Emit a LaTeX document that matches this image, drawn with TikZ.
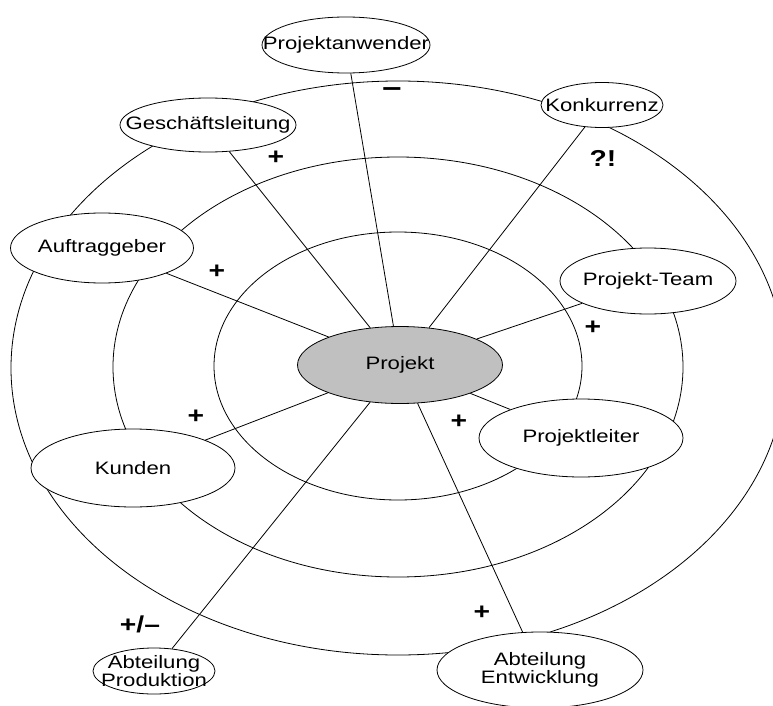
\documentclass[tikz,border=0pt]{standalone}
\usepackage{fontspec}
\setmainfont{Liberation Sans}[FakeStretch=1.23]
\usepackage{tikz}
\usetikzlibrary{shapes.geometric}
\definecolor{kerngrau}{RGB}{192,192,192}

\begin{document}
\begin{tikzpicture}[x=1pt,y=-1pt,line width=0.8pt,
                    font=\fontsize{18}{18}\selectfont]
  \tikzstyle{umfeld}=[ellipse,draw,fill=white,inner sep=0pt]
  \tikzstyle{wert}=[font=\fontsize{23}{24}\selectfont\bfseries,inner sep=0pt]

  \useasboundingbox (0,0) rectangle (773,706);

  % Ringe
  \draw (398,366) ellipse [x radius=184pt, y radius=134pt];
  \draw (398,367) ellipse [x radius=285pt, y radius=210pt];
  \draw (398,368) ellipse [x radius=387pt, y radius=287pt];

  \node[umfeld,fill=kerngrau,minimum width=205pt,minimum height=77pt] (projekt) at (400,365) {Projekt};

  \node[umfeld,minimum width=168pt,minimum height=56pt,label=center:Projektanwender]   (anwender) at (346,45)  {};
  \node[umfeld,minimum width=176pt,minimum height=54pt,label=center:Geschäftsleitung]  (leitung)  at (208,125) {};
  \node[umfeld,minimum width=122pt,minimum height=45pt,label=center:Konkurrenz]        (konk)     at (602,105) {};
  \node[umfeld,minimum width=183pt,minimum height=70pt,label=center:Auftraggeber]      (auftrag)  at (102,248) {};
  \node[umfeld,minimum width=176pt,minimum height=66pt,label=center:Projekt-Team]      (team)     at (648,281) {};
  \node[umfeld,minimum width=204pt,minimum height=78pt,label=center:Projektleiter]     (pleiter)  at (581,438) {};
  \node[umfeld,minimum width=204pt,minimum height=78pt,label=center:Kunden]            (kunden)   at (133,468) {};
  \node[umfeld,minimum width=122pt,minimum height=46pt,
        label={[align=center]center:Abteilung\\Produktion}]                             (prod)     at (154,671) {};
  \node[umfeld,minimum width=206pt,minimum height=76pt,
        label={[align=center]center:Abteilung\\Entwicklung}]                            (entw)     at (540,670) {};

  \path (projekt) edge (anwender)
        (projekt) edge (leitung)
        (projekt) edge (konk)
        (projekt) edge (auftrag)
        (projekt) edge (team)
        (projekt) edge (pleiter)
        (projekt) edge (kunden)
        (projekt) edge (prod)
        (projekt) edge (entw)
  ; %end path

  % Bewertungen
  \node[wert] (wAnw)   at (392,92)  {\fontsize{28}{30}\selectfont –};
  \node[wert] (wLeit)  at (276,158) {+};
  \node[wert] (wKonk)  at (603,158) {?!};
  \node[wert] (wAuft)  at (217,272) {+};
  \node[wert] (wTeam)  at (593,328) {+};
  \node[wert] (wKund)  at (196,417) {+};
  \node[wert] (wPl)    at (459,422) {+};
  \node[wert] (wEntw)  at (482,613) {+};
  \node[wert] (wProd)  at (140,624) {+/–};

\end{tikzpicture}
\end{document}
